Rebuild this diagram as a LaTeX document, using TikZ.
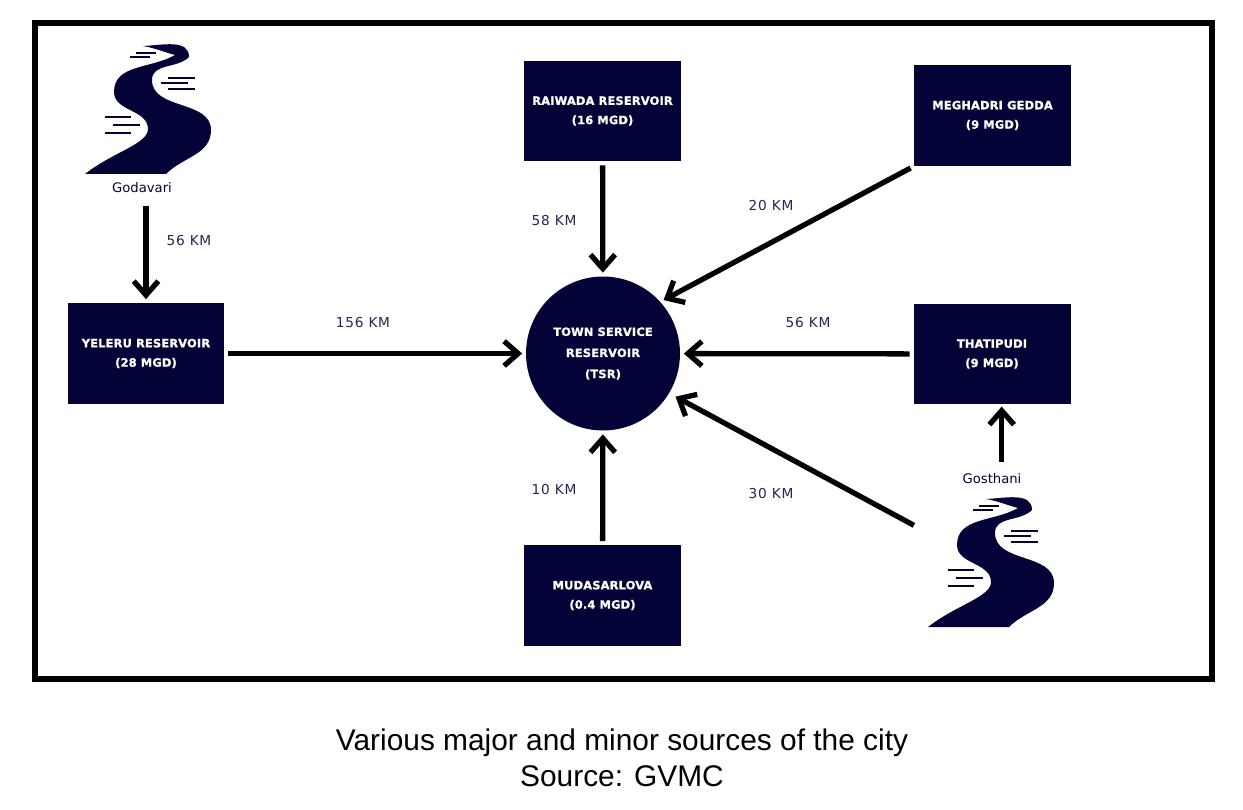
\documentclass[tikz,border=0pt]{standalone}
\usepackage{fontspec}
\setmainfont{Liberation Sans}
\newfontfamily\boxfont[LetterSpace=1.5, BoldFeatures={FakeBold=1.2}]{DejaVu Sans}
\newfontfamily\kmfont[LetterSpace=5]{DejaVu Sans}
\newfontfamily\riverfont{DejaVu Sans}
\usetikzlibrary{arrows.meta}

\definecolor{reservoirblue}{RGB}{3,3,55}
\definecolor{kmtext}{RGB}{38,38,82}

\tikzset{
	river/.pic={
		\fill[reservoirblue] (65,6) to[out=2,in=90] (111,17)
			to[out=-135,in=90] (74,40)
			to[out=-90,in=90] (133,90)
			to[out=-90,in=45] (88,134) -- (7,134)
			.. controls (35,112) and (70,104) .. (70,89)
			to[out=90,in=-90] (36,52)
			to[out=90,in=-150] (97,15)
			to[out=165,in=-10] (65,6) -- cycle;
		\draw[reservoirblue, line width=1.1pt]
			(58,12.7) -- (78,12.7) (52,16.7) -- (72,16.7)
			(90,37.7) -- (117,37.7) (83,43.3) -- (110,43.3) (90,49.3) -- (117,49.3)
			(27,76.7) -- (53,76.7) (35,85) -- (62,85) (27,92.7) -- (53,92.7);
	}
}

\begin{document}
\begin{tikzpicture}[%
					x=0.02cm, y=-0.02cm,
					srcbox/.style={%
						rectangle,
						fill=reservoirblue,
						text=white,
						align=center,
						minimum width=3.14cm,
						minimum height=2.02cm,
						font=\boxfont\bfseries\fontsize{6.5}{11}\selectfont
					},
					tsrcircle/.style={%
						circle,
						fill=reservoirblue,
						text=white,
						align=center,
						minimum size=3.08cm,
						font=\boxfont\bfseries\fontsize{6.5}{12}\selectfont
					},
					kmlabel/.style={text=kmtext, font=\kmfont\fontsize{7.8}{9}\selectfont},
					rivername/.style={text=reservoirblue, font=\riverfont\fontsize{7.5}{9}\selectfont},
					flow/.style={%
						line width=3pt,
						-{Straight Barb[length=8pt,width=14pt]},
						shorten <=2pt,
						shorten >=2pt
					}
				]

				\useasboundingbox (0,0) rectangle (1243,810);
				\draw[line width=3.4pt] (35,23) rectangle (1212,679);

				% sources and the service reservoir
				\node[srcbox] (raiwada) at (602.5,111) {RAIWADA RESERVOIR\\(16 MGD)};
				\node[srcbox] (meghadri) at (992.5,115.5) {MEGHADRI GEDDA\\(9 MGD)};
				\node[srcbox] (yeleru) at (146,353.5) {YELERU RESERVOIR\\(28 MGD)};
				\node[srcbox] (thatipudi) at (992,354) {THATIPUDI\\(9 MGD)};
				\node[srcbox] (mudasarlova) at (602.5,595.5) {MUDASARLOVA\\(0.4 MGD)};
				\node[tsrcircle] (tsr) at (603,353.5) {TOWN SERVICE\\RESERVOIR\\(TSR)};

				% rivers
				\pic at (78,40) {river};
				\node[rivername] (godavari) at (142,188) {Godavari};
				\pic at (921,493) {river};
				\node[rivername] (gosthani) at (992,478.5) {Gosthani};
				\coordinate (gosthaniout) at (917,527);

				% distances
				\node[kmlabel] (godavarikm) at (189,241) {56 KM};
				\node[kmlabel] (yelerukm) at (363,323) {156 KM};
				\node[kmlabel] (raiwadakm) at (554,221) {58 KM};
				\node[kmlabel] (meghadrikm) at (771,205.5) {20 KM};
				\node[kmlabel] (thatipudikm) at (808,323) {56 KM};
				\node[kmlabel] (gosthanikm) at (771,494) {30 KM};
				\node[kmlabel] (mudasarlovakm) at (554,490) {10 KM};

				\draw[flow, shorten <=4pt] (yeleru.north |- godavari.south) -- (yeleru.north);
				\draw[flow] (yeleru) -- (tsr);
				\draw[flow] (raiwada) -- (tsr);
				\draw[flow] (meghadri.south west) -- (tsr.42);
				\draw[flow] (thatipudi) -- (tsr);
				\draw[flow, shorten >=4pt] (gosthaniout) -- (tsr.-31);
				\draw[flow] (mudasarlova) -- (tsr);
				\draw[flow, shorten <=3pt, shorten >=1pt] ([xshift=5.5pt]gosthani.north) -- ([xshift=5.5pt]thatipudi.south);

				\node[align=center, font=\fontsize{17}{20.4}\selectfont] (caption) at (622,758) {Various major and minor sources of the city\\Source: GVMC};
			\end{tikzpicture}
\end{document}
